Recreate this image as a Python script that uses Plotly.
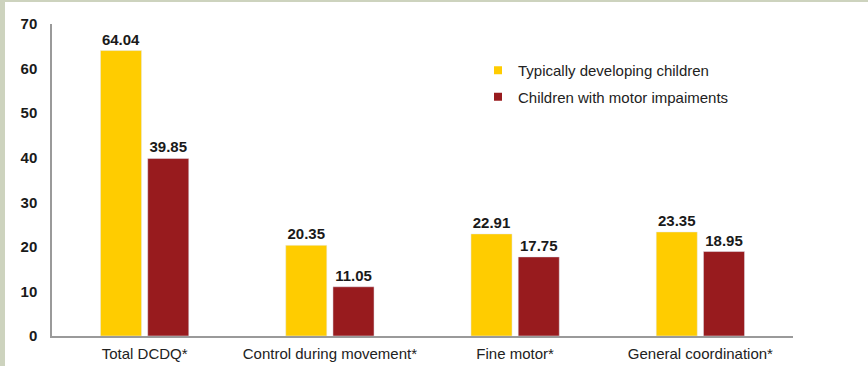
import plotly.graph_objects as go

categories = ["Total DCDQ*", "Control during movement*", "Fine motor*", "General coordination*"]
typical = [64.04, 20.35, 22.91, 23.35]
impaired = [39.85, 11.05, 17.75, 18.95]
series_names = ["Typically developing children", "Children with motor impaiments"]
colors = ["#FFCC00", "#981B1E"]

W, H = 868, 366
L, R, T, B = 52, 75, 24, 30
pw, ph = W - L - R, H - T - B
FONT = "Liberation Sans, Arial"

fig = go.Figure()
for vals, name, col in zip([typical, impaired], series_names, colors):
    fig.add_trace(go.Bar(x=categories, y=vals, name=name, marker_color=col,
                         text=[f"{v:.2f}" for v in vals], textposition="outside",
                         textfont=dict(family=FONT, size=15, color="#1a1a1a", weight="bold"),
                         cliponaxis=False, showlegend=False))
    # legend entry with a small square marker
    fig.add_trace(go.Scatter(x=[None], y=[None], mode="markers", name=name, legendgroup=name,
                             marker=dict(symbol="square", size=8, color=col), showlegend=True))

fig.update_layout(
    width=W, height=H,
    margin=dict(l=L, r=R, t=T, b=B, pad=0, autoexpand=False),
    paper_bgcolor="white", plot_bgcolor="white",
    barmode="group", bargap=0.49, bargroupgap=0.13,
    font=dict(family=FONT, size=15, color="#1a1a1a"),
    showlegend=True,
    legend=dict(x=(478 - L) / pw, y=(336 - 54) / ph, xanchor="left", yanchor="top",
                bgcolor="rgba(0,0,0,0)", font=dict(size=15, color="#222"),
                itemwidth=30, tracegroupgap=4),
    xaxis=dict(showline=True, linecolor="#9a9a9a", linewidth=1.5, ticks="", automargin=False,
               tickfont=dict(size=15, color="#222"), showgrid=False, ticklabelstandoff=3),
    yaxis=dict(range=[0, 70], dtick=10, showline=True, linecolor="#9a9a9a", linewidth=1.5,
               ticks="", showgrid=False, zeroline=False, automargin=False,
               tickfont=dict(size=15, color="#1a1a1a", family=FONT, weight="bold"),
               ticklabelstandoff=10),
    shapes=[
        dict(type="rect", xref="paper", yref="paper", x0=(0 - L) / pw, x1=(5 - L) / pw,
             y0=-B / ph, y1=(ph + T) / ph, fillcolor="#CDD3BE", line_width=0, layer="above"),
        dict(type="rect", xref="paper", yref="paper", x0=(0 - L) / pw, x1=(W - L) / pw,
             y0=(ph + T - 2) / ph, y1=(ph + T) / ph, fillcolor="#CDD3BE", line_width=0, layer="above"),
    ],
)

fig.write_html("out.html")
